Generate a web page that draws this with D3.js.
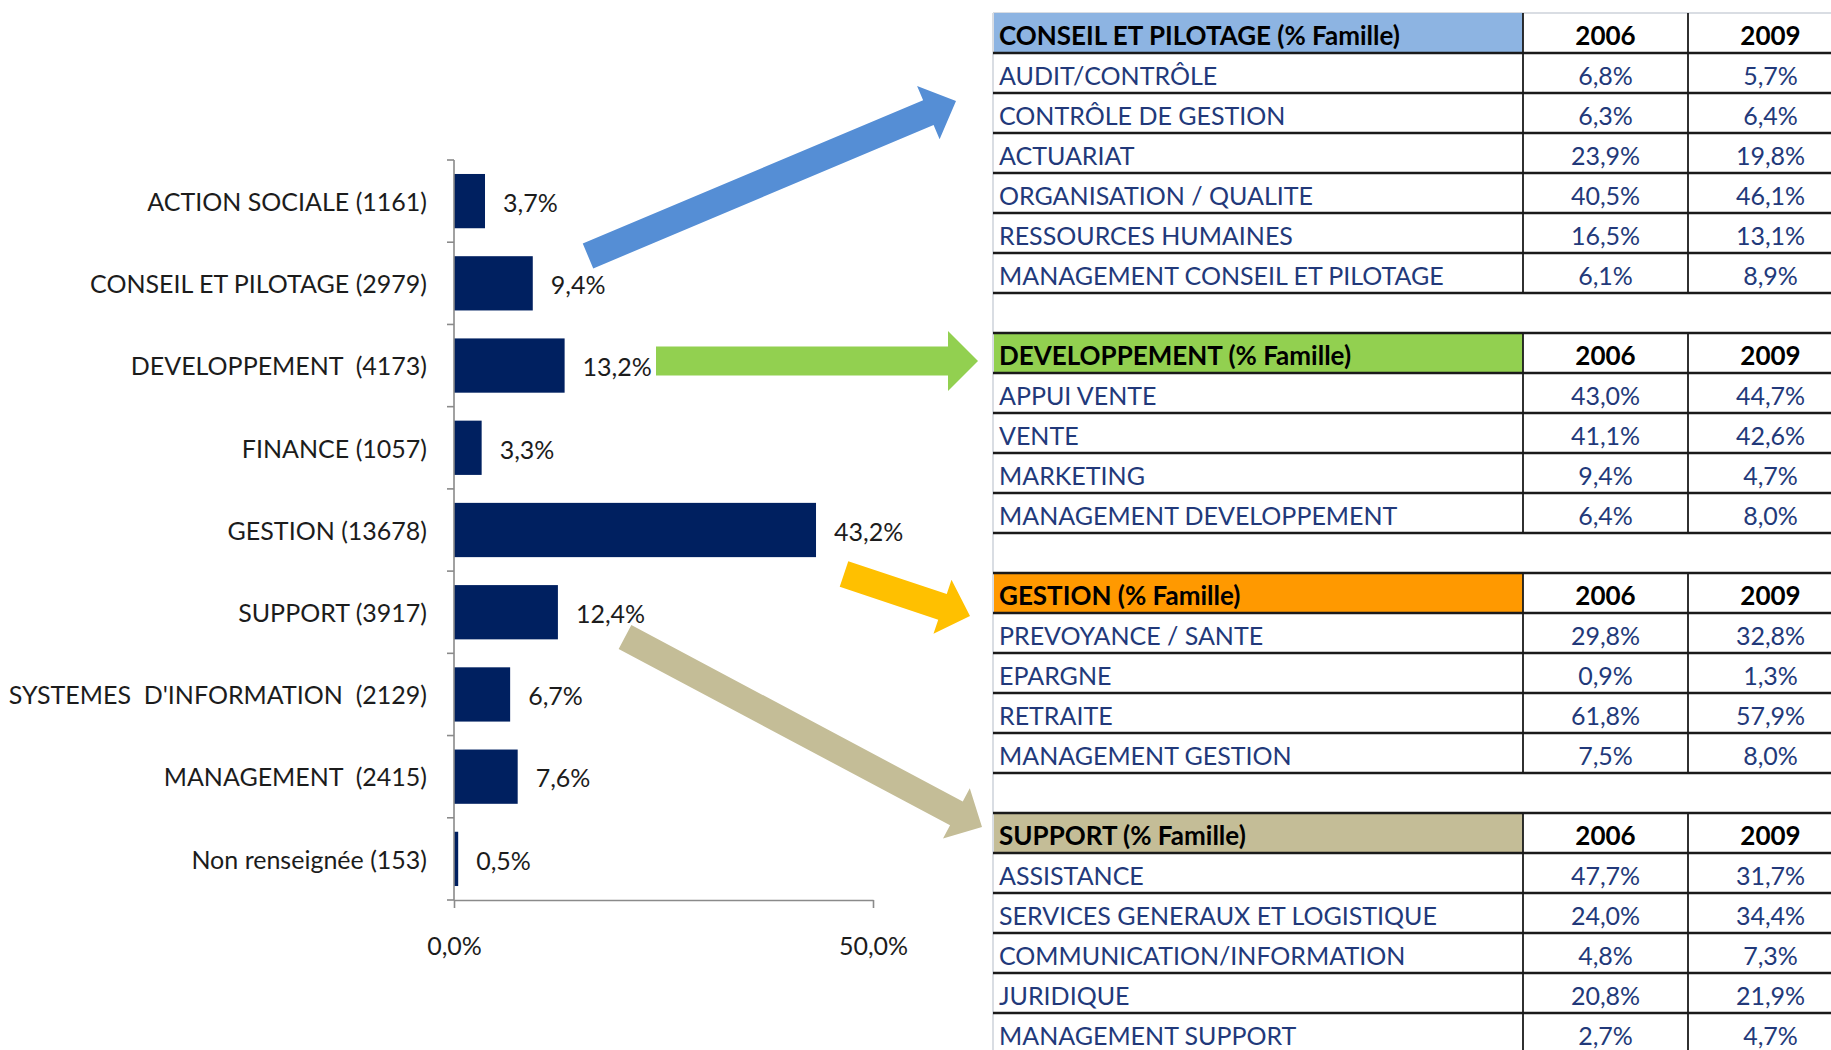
<!DOCTYPE html>
<html lang="fr">
<head>
<meta charset="utf-8">
<title>Répartition des effectifs par famille de métiers</title>
<script src="https://cdn.jsdelivr.net/npm/d3@7/dist/d3.min.js"></script>
<style>
  html, body { margin: 0; padding: 0; background: #fff; }
  svg { display: block; }
  text { font-family: "Lato", "Open Sans", sans-serif; }
</style>
</head>
<body>
<svg id="chart" width="1831" height="1050"></svg>
<script>
// ---- Bar chart: share of headcount per job family ----
const categories = [
  "ACTION SOCIALE", "CONSEIL ET PILOTAGE", "DEVELOPPEMENT ", "FINANCE", "GESTION",
  "SUPPORT", "SYSTEMES  D'INFORMATION ", "MANAGEMENT ", "Non renseignée"
];
const headcounts = [1161, 2979, 4173, 1057, 13678, 3917, 2129, 2415, 153];
const shares = [3.7, 9.4, 13.2, 3.3, 43.2, 12.4, 6.7, 7.6, 0.5];
const xTicks = [0, 50];

// ---- Detail tables: share of each job within its family ----
const years = ["2006", "2009"];

const conseilJobs = ["AUDIT/CONTRÔLE", "CONTRÔLE DE GESTION", "ACTUARIAT",
  "ORGANISATION / QUALITE", "RESSOURCES HUMAINES", "MANAGEMENT CONSEIL ET PILOTAGE"];
const conseil2006 = [6.8, 6.3, 23.9, 40.5, 16.5, 6.1];
const conseil2009 = [5.7, 6.4, 19.8, 46.1, 13.1, 8.9];

const devJobs = ["APPUI VENTE", "VENTE", "MARKETING", "MANAGEMENT DEVELOPPEMENT"];
const dev2006 = [43.0, 41.1, 9.4, 6.4];
const dev2009 = [44.7, 42.6, 4.7, 8.0];

const gestionJobs = ["PREVOYANCE / SANTE", "EPARGNE", "RETRAITE", "MANAGEMENT GESTION"];
const gestion2006 = [29.8, 0.9, 61.8, 7.5];
const gestion2009 = [32.8, 1.3, 57.9, 8.0];

const supportJobs = ["ASSISTANCE", "SERVICES GENERAUX ET LOGISTIQUE",
  "COMMUNICATION/INFORMATION", "JURIDIQUE", "MANAGEMENT SUPPORT"];
const support2006 = [47.7, 24.0, 4.8, 20.8, 2.7];
const support2009 = [31.7, 34.4, 7.3, 21.9, 4.7];

const familyTitles = ["CONSEIL ET PILOTAGE (% Famille)", "DEVELOPPEMENT (% Famille)",
  "GESTION (% Famille)", "SUPPORT (% Famille)"];

// ---------------------------------------------------------------
const svg = d3.select("#chart");
const fr = d3.formatLocale({ decimal: ",", thousands: " ", grouping: [3], currency: ["", " €"] });
const pct = v => fr.format(".1f")(v) + "%";

const FONT = 25;
const HEAD_FONT = 26;
const INK = "#1c1c1c";
const CELL_INK = "#22397a";
const AXIS = "#8a8a8a";

// Scales
const x = d3.scaleLinear().domain([0, 50]).range([454, 873]);
const y = d3.scaleBand().domain(categories).range([160, 900])
  .paddingInner(0.34).paddingOuter(0.17);

const chart = svg.append("g");

// Bars
chart.selectAll("rect.bar").data(categories).join("rect")
  .attr("class", "bar")
  .attr("x", x(0))
  .attr("y", d => y(d))
  .attr("width", (d, i) => x(shares[i]) - x(0))
  .attr("height", y.bandwidth())
  .attr("fill", "#002060");

// Value labels
chart.selectAll("text.value").data(categories).join("text")
  .attr("class", "value")
  .attr("x", (d, i) => x(shares[i]) + 18)
  .attr("y", d => y(d) + y.bandwidth() / 2 + 2)
  .attr("dy", "0.35em")
  .attr("font-size", FONT)
  .attr("fill", INK)
  .text((d, i) => pct(shares[i]));

// Category labels
chart.selectAll("text.cat").data(categories).join("text")
  .attr("class", "cat")
  .attr("x", x(0) - 27)
  .attr("y", d => y(d) + y.bandwidth() / 2 + 1)
  .attr("dy", "0.35em")
  .attr("text-anchor", "end")
  .attr("font-size", FONT)
  .attr("fill", INK)
  .style("white-space", "pre")
  .text((d, i) => d + " (" + headcounts[i] + ")");

// Vertical category axis with ticks between categories
const [y0, y1] = y.range();
chart.append("line")
  .attr("x1", x(0)).attr("x2", x(0)).attr("y1", y0).attr("y2", y1)
  .attr("stroke", AXIS).attr("stroke-width", 1.6);
chart.selectAll("line.ctick").data(d3.range(categories.length + 1)).join("line")
  .attr("class", "ctick")
  .attr("x1", x(0) - 7).attr("x2", x(0))
  .attr("y1", i => y0 + i * y.step()).attr("y2", i => y0 + i * y.step())
  .attr("stroke", AXIS).attr("stroke-width", 1.6);

// Value axis
const xAxis = d3.axisBottom(x).tickValues(xTicks).tickFormat(pct)
  .tickSizeInner(8).tickSizeOuter(0).tickPadding(29);
const gx = chart.append("g").attr("transform", `translate(0,${y1})`).call(xAxis);
gx.select(".domain").attr("stroke", AXIS).attr("stroke-width", 1.6);
gx.selectAll(".tick line").attr("stroke", AXIS).attr("stroke-width", 1.6);
gx.selectAll(".tick text").attr("font-size", FONT).attr("fill", INK)
  .attr("font-family", "Lato, 'Open Sans', sans-serif");

// ---- Tables ----
const tableLeft = 993, col1 = 1523, col2 = 1688, col3 = 1853;
const rowH = 40, sheetTop = 13;
const textInset = 6, textDrop = 3;
const headerFills = ["#8DB4E2", "#92D050", "#FF9900", "#C4BD97"];
const families = [
  { title: familyTitles[0], jobs: conseilJobs, a: conseil2006, b: conseil2009 },
  { title: familyTitles[1], jobs: devJobs, a: dev2006, b: dev2009 },
  { title: familyTitles[2], jobs: gestionJobs, a: gestion2006, b: gestion2009 },
  { title: familyTitles[3], jobs: supportJobs, a: support2006, b: support2009 }
];

// Sheet edge lines
const sheet = svg.append("g");
sheet.append("line")
  .attr("x1", tableLeft).attr("x2", tableLeft).attr("y1", sheetTop).attr("y2", 1050)
  .attr("stroke", "#d9dde3").attr("stroke-width", 2);
sheet.append("line")
  .attr("x1", tableLeft).attr("x2", 1831).attr("y1", sheetTop).attr("y2", sheetTop)
  .attr("stroke", "#d9dde3").attr("stroke-width", 2);

let rowIndex = 0;
families.forEach((fam, f) => {
  const top = sheetTop + rowIndex * rowH;
  const nRows = fam.jobs.length + 1;
  const g = sheet.append("g");

  // Header fill (first column only)
  g.append("rect")
    .attr("x", tableLeft + 1).attr("y", top)
    .attr("width", col1 - tableLeft - 1).attr("height", rowH)
    .attr("fill", headerFills[f]);

  // Header texts
  g.append("text")
    .attr("x", tableLeft + textInset).attr("y", top + rowH / 2 + textDrop).attr("dy", "0.35em")
    .attr("font-size", HEAD_FONT).attr("font-weight", 700).attr("fill", "#000")
    .text(fam.title);
  years.forEach((yr, k) => {
    g.append("text")
      .attr("x", k === 0 ? (col1 + col2) / 2 : (col2 + col3) / 2)
      .attr("y", top + rowH / 2 + textDrop).attr("dy", "0.35em")
      .attr("text-anchor", "middle")
      .attr("font-size", HEAD_FONT).attr("font-weight", 700).attr("fill", "#000")
      .text(yr);
  });

  // Data rows
  fam.jobs.forEach((job, r) => {
    const cy = top + (r + 1) * rowH + rowH / 2 + textDrop;
    g.append("text")
      .attr("x", tableLeft + textInset).attr("y", cy).attr("dy", "0.35em")
      .attr("font-size", FONT).attr("fill", CELL_INK)
      .text(job);
    [fam.a[r], fam.b[r]].forEach((v, k) => {
      g.append("text")
        .attr("x", k === 0 ? (col1 + col2) / 2 : (col2 + col3) / 2)
        .attr("y", cy).attr("dy", "0.35em")
        .attr("text-anchor", "middle")
        .attr("font-size", FONT).attr("fill", CELL_INK)
        .text(pct(v));
    });
  });

  // Grid lines
  d3.range(nRows + 1).forEach(k => {
    if (f === 0 && k === 0) return; // sheet top edge already drawn
    g.append("line")
      .attr("x1", tableLeft).attr("x2", 1831)
      .attr("y1", top + k * rowH).attr("y2", top + k * rowH)
      .attr("stroke", "#1a1a1a").attr("stroke-width", 2.4);
  });
  [col1, col2].forEach(cx => {
    g.append("line")
      .attr("x1", cx).attr("x2", cx)
      .attr("y1", top).attr("y2", top + nRows * rowH)
      .attr("stroke", "#1a1a1a").attr("stroke-width", 1.8);
  });

  rowIndex += nRows + 1; // one blank row between tables
});

// ---- Arrows linking bars to their family tables ----
const arrows = [
  { from: [588, 256], to: [956, 101], color: "#558ED5", shaft: 27, head: 58, len: 30 },
  { from: [656, 361], to: [978, 361], color: "#92D050", shaft: 29, head: 60, len: 30 },
  { from: [844, 574], to: [970, 616], color: "#FFC000", shaft: 27, head: 57, len: 29 },
  { from: [625, 637], to: [982, 827], color: "#C4BD97", shaft: 27, head: 57, len: 29 }
];
const arrowPath = a => {
  const [tx, ty] = a.from, [px, py] = a.to;
  const L = Math.hypot(px - tx, py - ty);
  const ux = (px - tx) / L, uy = (py - ty) / L;
  const nx = -uy, ny = ux;
  const bx = px - ux * a.len, by = py - uy * a.len;
  const s = a.shaft / 2, h = a.head / 2;
  const p = d3.path();
  p.moveTo(tx + nx * s, ty + ny * s);
  p.lineTo(bx + nx * s, by + ny * s);
  p.lineTo(bx + nx * h, by + ny * h);
  p.lineTo(px, py);
  p.lineTo(bx - nx * h, by - ny * h);
  p.lineTo(bx - nx * s, by - ny * s);
  p.lineTo(tx - nx * s, ty - ny * s);
  p.closePath();
  return p.toString();
};
svg.append("g").selectAll("path").data(arrows).join("path")
  .attr("d", arrowPath)
  .attr("fill", d => d.color);
</script>
</body>
</html>
